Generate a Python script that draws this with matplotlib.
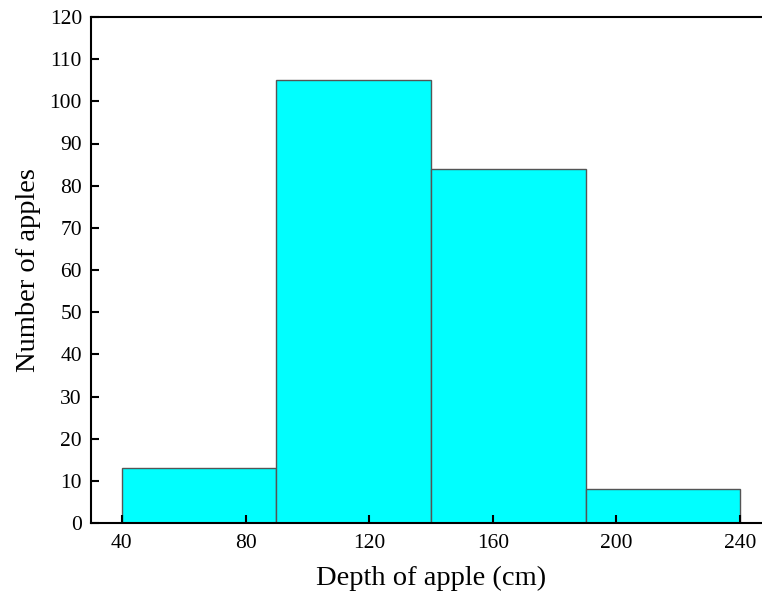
import matplotlib
matplotlib.use("Agg")
import matplotlib.pyplot as plt

# histogram bins and counts
bin_edges = [40, 90, 140, 190, 240]
counts = [13, 105, 84, 8]
xticks = [40, 80, 120, 160, 200, 240]
yticks = list(range(0, 121, 10))

plt.rcParams['font.family'] = ['Liberation Serif', 'DejaVu Serif']

fig = plt.figure(figsize=(7.62, 5.93), dpi=100)
ax = fig.add_axes([91 / 762, 1 - 523 / 593, (771 - 91) / 762, (523 - 17) / 593])

lefts = bin_edges[:-1]
widths = [b - a for a, b in zip(bin_edges[:-1], bin_edges[1:])]
ax.bar(lefts, counts, width=widths, align='edge', color='#00FFFF',
       edgecolor='#555555', linewidth=1.0)

ax.set_xlim(30, 250)
ax.set_ylim(0, 120)
ax.set_xticks(xticks)
ax.set_yticks(yticks)
ax.tick_params(direction='in', length=6, width=1.5, labelsize=15.5)
ax.tick_params(axis='x', pad=8)
ax.tick_params(axis='y', pad=6.5)
ax.spines['right'].set_visible(False)
for s in ['left', 'top', 'bottom']:
    ax.spines[s].set_linewidth(1.5)

ax.set_xlabel("Depth of apple (cm)", fontsize=20.5, labelpad=9)
ax.set_ylabel("Number of apples", fontsize=20.5, labelpad=6)

fig.savefig("out.png", dpi=100)
